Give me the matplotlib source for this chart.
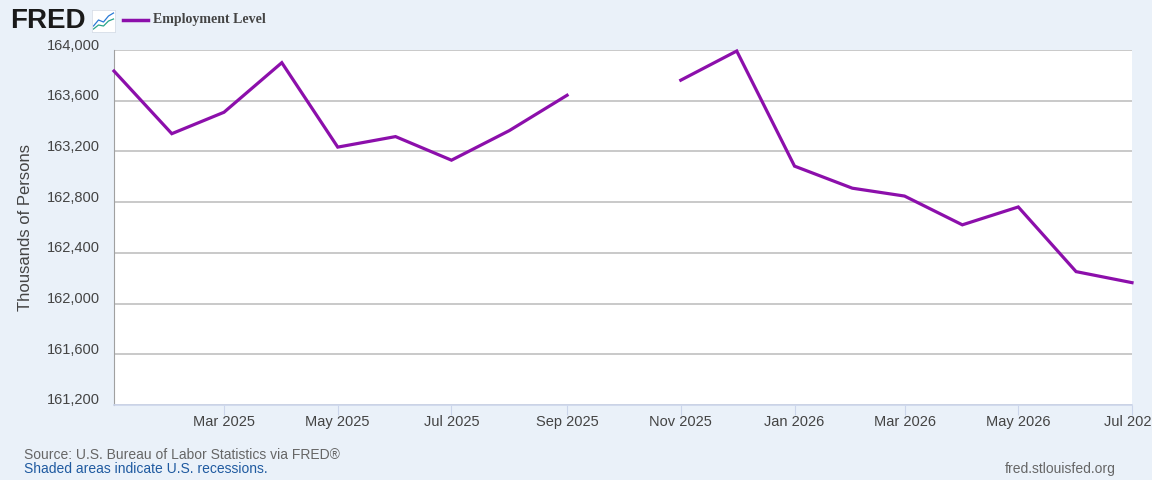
import numpy as np
import pandas as pd
import matplotlib
matplotlib.use("Agg")
import matplotlib.pyplot as plt
import matplotlib.dates as mdates
from matplotlib.transforms import ScaledTranslation

# monthly values, thousands of persons (Oct 2025 missing)
months = pd.date_range("2025-01-01", "2026-07-01", freq="MS")
employment = [163834, 163340, 163509, 163900, 163234, 163317, 163131, 163364, 163643,
              np.nan,
              163762, 163992, 163084, 162910, 162848, 162621, 162762, 162252, 162165]
y_ticks = [161200, 161600, 162000, 162400, 162800, 163200, 163600, 164000]
x_ticks = pd.date_range("2025-03-01", "2026-07-01", freq="2MS")

bg = "#eaf1f9"
purple = "#8c0fab"
plt.rcParams["font.family"] = ["Liberation Sans", "DejaVu Sans"]

fig = plt.figure(figsize=(11.52, 4.8), dpi=100, facecolor=bg)
ax = fig.add_axes([114 / 1152, 1 - 405 / 480, (1132 - 114) / 1152, (405 - 50) / 480])
ax.set_facecolor("white")

ax.plot(months, employment, color=purple, lw=2.3, solid_joinstyle="miter", clip_on=False, zorder=3)

ax.set_xlim(months[0], months[-1])
ax.set_ylim(161200, 164000)
ax.set_yticks(y_ticks)
ax.set_yticklabels([f"{v:,}" for v in y_ticks])
ax.set_xticks(x_ticks)
ax.xaxis.set_major_formatter(mdates.DateFormatter("%b %Y"))

ax.grid(axis="y", color="#c0c0c0", lw=1.2)
ax.set_axisbelow(True)
for s in ["top", "right"]:
    ax.spines[s].set_visible(False)
ax.spines["left"].set_color("#a0a0a0")
ax.spines["bottom"].set_color("#ccd6eb")
ax.spines["bottom"].set_linewidth(1.2)

ax.tick_params(axis="y", length=0, pad=10, labelsize=10.5, labelcolor="#444444")
ax.tick_params(axis="x", length=7, color="#ccd6eb", pad=0, labelsize=10.5, labelcolor="#444444")
offset = ScaledTranslation(0, 6 / 100, fig.dpi_scale_trans)
for lab in ax.get_yticklabels():
    lab.set_transform(lab.get_transform() + offset)

ax.set_ylabel("Thousands of Persons", fontsize=12, color="#444444", labelpad=10)

# header: logo and legend
fig.text(10 / 1152, 1 - 21 / 480, "FRED", fontsize=20, fontweight="bold", color="#1a1a1a",
         va="center", ha="left")
icon = fig.add_axes([92 / 1152, 1 - 32 / 480, 23 / 1152, 22 / 480])
icon.set_facecolor("white")
icon.plot([0, 1, 2, 3, 4], [1, 2.2, 1.8, 3, 3.6], color="#2a7ad6", lw=0.9)
icon.plot([0, 1, 2, 3, 4], [0.4, 1.2, 1, 2, 2.4], color="#2aa58a", lw=0.9)
icon.set_xlim(-0.3, 4.3)
icon.set_ylim(-0.2, 4.2)
icon.set_xticks([])
icon.set_yticks([])
for s in icon.spines.values():
    s.set_color("#d8dee8")
    s.set_linewidth(0.6)

fig.add_artist(plt.Line2D([123 / 1152, 148 / 1152], [1 - 20 / 480, 1 - 20 / 480],
                          color=purple, lw=2.5))
fig.text(153 / 1152, 1 - 20 / 480, "Employment Level", fontsize=10, fontweight="bold",
         family=["Liberation Serif", "DejaVu Serif"], color="#444444", va="center", ha="left")

# footer
fig.text(24 / 1152, 1 - 455 / 480, "Source: U.S. Bureau of Labor Statistics via FRED®",
         fontsize=10, color="#666666", va="center")
fig.text(24 / 1152, 1 - 469 / 480, "Shaded areas indicate U.S. recessions.",
         fontsize=10, color="#1f5aa0", va="center")
fig.text(1116 / 1152, 1 - 469 / 480, "fred.stlouisfed.org", fontsize=10, color="#666666",
         va="center", ha="right")

fig.savefig("out.png", dpi=100, facecolor=bg)
